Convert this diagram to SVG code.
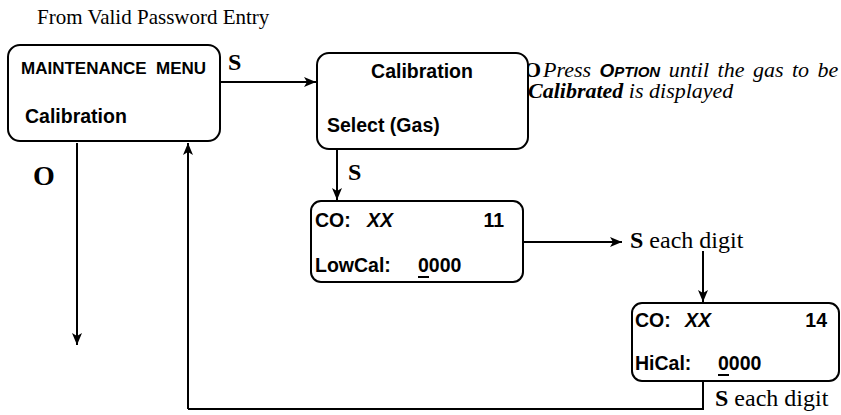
<svg xmlns="http://www.w3.org/2000/svg" width="841" height="415" viewBox="0 0 841 415">
<defs>
<marker id="ah" viewBox="0 0 12 10" refX="12" refY="5" markerWidth="12" markerHeight="10" markerUnits="userSpaceOnUse" orient="auto">
<path d="M0,0 L12,5 L0,10 L3,5 Z" fill="#000"/>
</marker>
<style>
.box{fill:#fff;stroke:#000;stroke-width:2}
.ln{fill:none;stroke:#000;stroke-width:2}
.arr{fill:none;stroke:#000;stroke-width:2;marker-end:url(#ah)}
.t{font-family:"Liberation Sans",Arial,sans-serif;font-weight:bold;font-size:19.5px;fill:#000}
.it{font-style:italic}
.lab{font-family:"Liberation Serif","Times New Roman",serif;font-weight:bold;font-size:24px;fill:#000}
.ser{font-family:"Liberation Serif","Times New Roman",serif;font-size:22px;fill:#000}
.opt{font-family:"Liberation Sans",Arial,sans-serif;font-weight:bold;font-style:italic}
</style>
</defs>
<rect width="841" height="415" fill="#fff"/>
<text class="ser" x="37" y="24" style="font-size:21px">From Valid Password Entry</text>

<g id="connectors">
<path class="arr" d="M220,82 H316"/>
<path class="arr" d="M337,149 V200"/>
<path class="arr" d="M524,242 H622"/>
<path class="arr" d="M703,251 V302"/>
<path class="ln" d="M703,381 V409 H188"/>
<path class="arr" d="M188,409 V143"/>
<path class="arr" d="M77,143 V345"/>
</g>

<g id="labels">
<text class="lab" x="228" y="70">S</text>
<text class="lab" x="348" y="180">S</text>
<text class="lab" x="33" y="185" style="font-size:28px">O</text>
<text class="ser" x="524" y="77"><tspan font-weight="bold">O</tspan><tspan font-style="italic" x="543" word-spacing="3">Press <tspan class="opt" font-size="19px">O</tspan><tspan class="opt" font-size="15px">PTION</tspan> until the gas to be</tspan><tspan font-style="italic" x="528" y="98"><tspan font-weight="bold">Calibrated</tspan> is displayed</tspan></text>
<text class="ser" x="630" y="248" style="font-size:24px"><tspan font-weight="bold">S</tspan> each digit</text>
<text class="ser" x="715" y="406" style="font-size:24px"><tspan font-weight="bold">S</tspan> each digit</text>
</g>

<g id="maintenance-menu">
<rect class="box" x="8" y="45" width="212" height="96" rx="12"/>
<text class="t" x="21" y="74" style="font-size:17px" xml:space="preserve">MAINTENANCE  MENU</text>
<text class="t" x="25" y="123">Calibration</text>
</g>

<g id="calibration-select">
<rect class="box" x="317" y="53" width="211" height="96" rx="12"/>
<text class="t" x="422" y="78" text-anchor="middle">Calibration</text>
<text class="t" x="327" y="132">Select (Gas)</text>
</g>

<g id="lowcal">
<rect class="box" x="311" y="201" width="212" height="81" rx="10"/>
<text class="t" x="315" y="227">CO:</text>
<text class="t it" x="367" y="227">XX</text>
<text class="t" x="504" y="227" text-anchor="end">11</text>
<text class="t" x="315" y="272">LowCal:</text>
<text class="t" x="418" y="272">0000</text>
<path class="ln" d="M418,277 H429"/>
</g>

<g id="hical">
<rect class="box" x="632" y="303" width="207" height="78" rx="10"/>
<text class="t" x="635" y="327">CO:</text>
<text class="t it" x="685" y="327">XX</text>
<text class="t" x="827" y="327" text-anchor="end">14</text>
<text class="t" x="635" y="370">HiCal:</text>
<text class="t" x="718" y="370">0000</text>
<path class="ln" d="M718,375 H729"/>
</g>
</svg>
